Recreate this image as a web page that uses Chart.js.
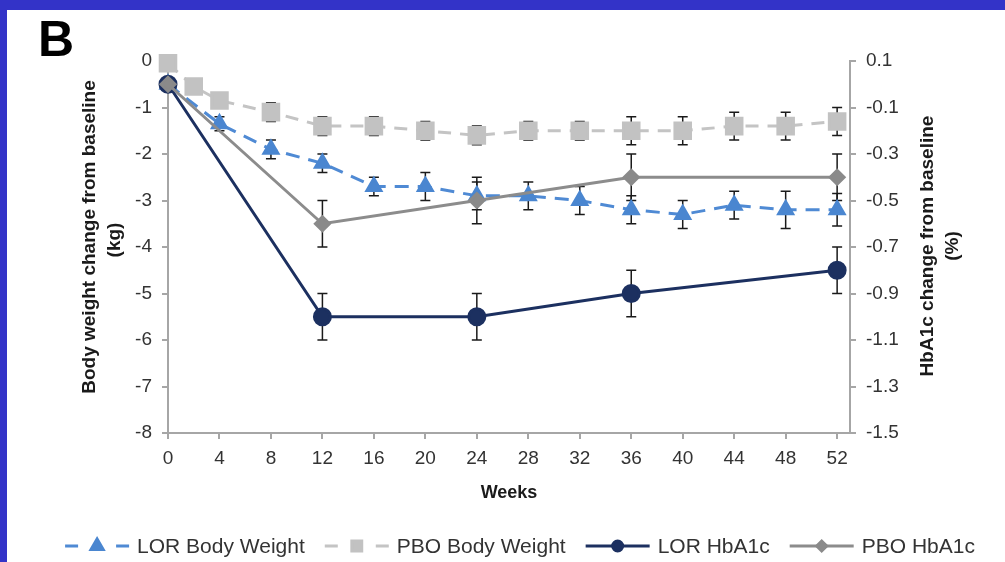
<!DOCTYPE html>
<html>
<head>
<meta charset="utf-8">
<script src="https://cdn.jsdelivr.net/npm/chart.js@4.4.1/dist/chart.umd.min.js"></script>
<style>
  html, body { margin: 0; padding: 0; }
  body { width: 1005px; height: 562px; background: #3333c8; position: relative; overflow: hidden; }
  #panel { position: absolute; left: 7px; top: 10px; width: 998px; height: 552px; background: #fff; }
</style>
</head>
<body>
<div id="panel"><canvas id="chartCanvas" width="998" height="552"></canvas></div>
<script>
// weeks where body weight was measured
const weeksBW = [0, 2, 4, 8, 12, 16, 20, 24, 28, 32, 36, 40, 44, 48, 52];
// weeks where HbA1c was measured
const weeksHb = [0, 12, 24, 36, 52];

// body weight change (kg), left axis
const lorBodyWeight = [-0.5, null, -1.35, -1.9, -2.2, -2.7, -2.7, -2.9, -2.9, -3.0, -3.2, -3.3, -3.1, -3.2, -3.2];
const lorBodyWeightErr = [0, null, 0.15, 0.2, 0.2, 0.2, 0.3, 0.3, 0.3, 0.3, 0.3, 0.3, 0.3, 0.4, 0.35];
const pboBodyWeight = [-0.05, -0.55, -0.85, -1.1, -1.4, -1.4, -1.5, -1.6, -1.5, -1.5, -1.5, -1.5, -1.4, -1.4, -1.3];
const pboBodyWeightErr = [0, 0, 0, 0.2, 0.2, 0.2, 0.2, 0.2, 0.2, 0.2, 0.3, 0.3, 0.3, 0.3, 0.3];

// HbA1c change (%), right axis
const lorHbA1c = [0, -1.0, -1.0, -0.9, -0.8];
const lorHbA1cErr = [0, 0.1, 0.1, 0.1, 0.1];
const pboHbA1c = [0, -0.6, -0.5, -0.4, -0.4];
const pboHbA1cErr = [0, 0.1, 0.1, 0.1, 0.1];

// tick labels
const weekTicks = [0, 4, 8, 12, 16, 20, 24, 28, 32, 36, 40, 44, 48, 52];
const kgTicks = [0, -1, -2, -3, -4, -5, -6, -7, -8];
const hbTicks = [0.1, -0.1, -0.3, -0.5, -0.7, -0.9, -1.1, -1.3, -1.5];

const FONT = "Arial, 'Liberation Sans', sans-serif";
const axisColor = '#a6a6a6';
const textColor = '#333333';

// pairs of (x, y) for the library
function toPoints(weeks, values) {
    return weeks.map((w, i) => ({ x: w, y: values[i] }));
}

// error bars: which values belong to which axis
const errorSets = [
    { axis: 'y', weeks: weeksBW, values: pboBodyWeight, errors: pboBodyWeightErr },
    { axis: 'y', weeks: weeksBW, values: lorBodyWeight, errors: lorBodyWeightErr },
    { axis: 'y1', weeks: weeksHb, values: lorHbA1c, errors: lorHbA1cErr },
    { axis: 'y1', weeks: weeksHb, values: pboHbA1c, errors: pboHbA1cErr }
];

// text drawn rotated, reading bottom to top
function vText(ctx, text, x, y) {
    ctx.save();
    ctx.translate(x, y);
    ctx.rotate(-Math.PI / 2);
    ctx.fillText(text, 0, 0);
    ctx.restore();
}

const extrasPlugin = {
    id: 'extras',
    // error bars under the markers
    beforeDatasetsDraw(chart) {
        const ctx = chart.ctx;
        const xs = chart.scales.x;
        ctx.save();
        ctx.strokeStyle = '#1a1a1a';
        ctx.lineWidth = 1.5;
        errorSets.forEach(set => {
            const ys = chart.scales[set.axis];
            set.weeks.forEach((w, i) => {
                const v = set.values[i];
                const e = set.errors[i];
                if (v === null || !e) return;
                const px = xs.getPixelForValue(w);
                const top = ys.getPixelForValue(v + e);
                const bot = ys.getPixelForValue(v - e);
                ctx.beginPath();
                ctx.moveTo(px, top); ctx.lineTo(px, bot);
                ctx.moveTo(px - 5, top); ctx.lineTo(px + 5, top);
                ctx.moveTo(px - 5, bot); ctx.lineTo(px + 5, bot);
                ctx.stroke();
            });
        });
        ctx.restore();
    },
    afterDraw(chart) {
        const ctx = chart.ctx;
        ctx.save();
        // panel letter
        ctx.fillStyle = '#000';
        ctx.font = 'bold 50px ' + FONT;
        ctx.textAlign = 'left';
        ctx.textBaseline = 'alphabetic';
        ctx.fillText('B', 31, 46);

        // y axis titles
        ctx.fillStyle = '#1a1a1a';
        ctx.font = 'bold 19px ' + FONT;
        ctx.textAlign = 'center';
        ctx.textBaseline = 'middle';
        vText(ctx, 'Body weight change from baseline', 83, 227);
        vText(ctx, '(kg)', 108, 230);
        vText(ctx, 'HbA1c change from baseline', 921, 236);
        vText(ctx, '(%)', 946, 236);

        // legend: line + marker, then label
        ctx.font = '21px ' + FONT;
        const symW = 64, textGap = 8, itemGap = 20, cy = 536, cx = 513;
        const items = chart.data.datasets;
        let total = 0;
        items.forEach((d, k) => {
            total += symW + textGap + ctx.measureText(d.label).width + (k ? itemGap : 0);
        });
        let x0 = cx - total / 2;
        items.forEach(d => {
            ctx.strokeStyle = d.borderColor;
            ctx.lineWidth = d.borderWidth;
            ctx.beginPath();
            if (d.borderDash) {
                ctx.moveTo(x0, cy); ctx.lineTo(x0 + 13, cy);
                ctx.moveTo(x0 + symW - 13, cy); ctx.lineTo(x0 + symW, cy);
            } else {
                ctx.moveTo(x0, cy); ctx.lineTo(x0 + symW, cy);
            }
            ctx.stroke();
            ctx.fillStyle = d.pointBackgroundColor;
            ctx.strokeStyle = d.pointBorderColor;
            Chart.helpers.drawPoint(ctx, {
                pointStyle: d.pointStyle, rotation: 0, radius: d.legendRadius, borderWidth: 1
            }, x0 + symW / 2, cy);
            ctx.fillStyle = textColor;
            ctx.textAlign = 'left';
            ctx.fillText(d.label, x0 + symW + textGap, cy + 1);
            x0 += symW + textGap + ctx.measureText(d.label).width + itemGap;
        });
        ctx.restore();
    }
};

const tickFont = { family: FONT, size: 19 };

new Chart(document.getElementById('chartCanvas'), {
    type: 'line',
    data: {
        datasets: [
            {
                label: 'LOR Body Weight',
                data: toPoints(weeksBW, lorBodyWeight),
                yAxisID: 'y',
                borderColor: '#4f8ad4',
                borderWidth: 3,
                borderDash: [14, 9],
                pointStyle: 'triangle',
                pointRadius: 8,
                legendRadius: 7,
                pointBackgroundColor: '#4a86d0',
                pointBorderColor: '#4a86d0',
                spanGaps: true,
                clip: false,
                order: 2
            },
            {
                label: 'PBO Body Weight',
                data: toPoints(weeksBW, pboBodyWeight),
                yAxisID: 'y',
                borderColor: '#c4c4c4',
                borderWidth: 3,
                borderDash: [13, 9],
                pointStyle: 'rect',
                pointRadius: 11,
                legendRadius: 7,
                pointBackgroundColor: '#c2c2c2',
                pointBorderColor: '#c2c2c2',
                clip: false,
                order: 3
            },
            {
                label: 'LOR HbA1c',
                data: toPoints(weeksHb, lorHbA1c),
                yAxisID: 'y1',
                borderColor: '#1c3060',
                borderWidth: 3,
                pointStyle: 'circle',
                pointRadius: 8,
                legendRadius: 5,
                pointBackgroundColor: '#1c3060',
                pointBorderColor: '#1c3060',
                clip: false,
                order: 1
            },
            {
                label: 'PBO HbA1c',
                data: toPoints(weeksHb, pboHbA1c),
                yAxisID: 'y1',
                borderColor: '#8c8c8c',
                borderWidth: 3,
                pointStyle: 'rectRot',
                pointRadius: 7,
                legendRadius: 5,
                pointBackgroundColor: '#8a8a8a',
                pointBorderColor: '#8a8a8a',
                clip: false,
                order: 0
            }
        ]
    },
    options: {
        responsive: false,
        animation: false,
        events: [],
        layout: { padding: { left: 0, right: 0, top: 51, bottom: 54 } },
        plugins: {
            legend: { display: false },
            tooltip: { enabled: false }
        },
        scales: {
            x: {
                type: 'linear',
                min: 0,
                max: 53,
                afterBuildTicks: s => { s.ticks = weekTicks.map(v => ({ value: v })); },
                afterFit: s => { s.height = 75; },
                ticks: { color: textColor, font: tickFont, padding: 8, maxRotation: 0 },
                grid: { drawOnChartArea: false, tickLength: 6, color: axisColor, lineWidth: 2 },
                border: { color: axisColor, width: 2 },
                title: {
                    display: true, text: 'Weeks', color: '#1a1a1a',
                    font: { family: FONT, size: 18, weight: 'bold' },
                    padding: { top: 0, bottom: 4 }
                }
            },
            y: {
                position: 'left',
                min: -8,
                max: 0,
                afterBuildTicks: s => { s.ticks = kgTicks.map(v => ({ value: v })); },
                afterFit: s => { s.width = 161; },
                ticks: { color: textColor, font: tickFont, padding: 10 },
                grid: { drawOnChartArea: false, tickLength: 6, color: axisColor, lineWidth: 2 },
                border: { color: axisColor, width: 2 }
            },
            y1: {
                position: 'right',
                min: -1.5,
                max: 0.1,
                afterBuildTicks: s => { s.ticks = hbTicks.map(v => ({ value: v })); },
                afterFit: s => { s.width = 155; },
                ticks: { color: textColor, font: tickFont, padding: 10, callback: v => v.toFixed(1) },
                grid: { drawOnChartArea: false, tickLength: 6, color: axisColor, lineWidth: 2 },
                border: { color: axisColor, width: 2 }
            }
        }
    },
    plugins: [extrasPlugin]
});
</script>
</body>
</html>
